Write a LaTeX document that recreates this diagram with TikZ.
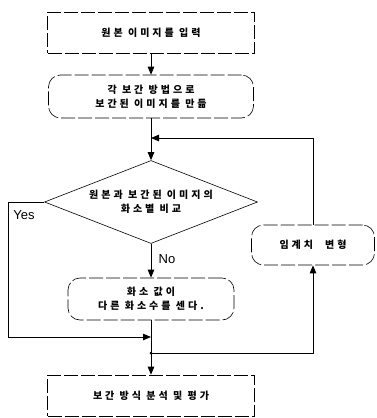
\documentclass[tikz,border=0pt]{standalone}
\usepackage{fontspec}
\setsansfont{Liberation Sans}
\newfontfamily\korfont[LetterSpace=30]{Noto Sans CJK KR}
\usetikzlibrary{arrows.meta,shapes.geometric}

\tikzset{
    procbox/.style={draw, line width=0.6pt, dash pattern=on 14pt off 3pt, minimum width=207, minimum height=41,
        align=center, inner sep=0pt, font=\korfont\bfseries\fontsize{10}{14}\selectfont},
    roundbox/.style={procbox, rounded corners=12pt},
    decision/.style={draw, line width=0.6pt, diamond, aspect=2.57, minimum width=213, minimum height=83,
        inner sep=0pt, align=center, font=\korfont\bfseries\fontsize{10}{14}\selectfont},
    flow/.style={line width=0.8pt, -{Triangle[length=8pt,width=6.5pt]}},
    link/.style={line width=0.8pt},
    answer/.style={font=\sffamily\fontsize{13}{15}\selectfont}
}

\begin{document}
\begin{tikzpicture}[x=1pt,y=-1pt]
            \useasboundingbox (0,0) rectangle (376,418);
            \node[procbox] (input) at (151,32.5) {원본 이미지를 입력};
            \node[roundbox, minimum width=205, minimum height=43] (interp) at (151,96.5) {각 보간 방법으로\\보간된 이미지를 만듦};
            \node[decision] (cmp) at (151,202) {원본과 보간된 이미지의\\화소별 비교};
            \node[roundbox, minimum width=166, minimum height=42] (count) at (151,299) {화소 값이\\다른 화소수를 센다.};
            \node[roundbox, minimum width=123, minimum height=40] (thr) at (313,245) {임계치\hspace{1.2em}변형};
            \node[procbox] (eval) at (151,395.5) {보간 방식 분석 및 평가};
            \coordinate (merge) at (151,138);
            \coordinate (ycorner) at (8,337);
            \coordinate (yend) at (151,337);
            \coordinate (join) at (151,353);
            \draw[flow] (input) -- (interp);
            \draw[flow] (interp) -- (cmp);
            \draw[flow] (thr) |- (merge);
            \draw[flow] (cmp) -- node[answer, pos=0.45, right=4pt] (no) {No} (count);
            \draw[flow] (cmp.west) -| (ycorner) -- (yend);
            \node[answer] (yes) at (24,215) {Yes};
            \draw[link] (count) -- (join);
            \fill (join) circle (1.5);
            \draw[flow] (join) -- (eval);
            \draw[flow] (join) -| (thr);
        \end{tikzpicture}
\end{document}
